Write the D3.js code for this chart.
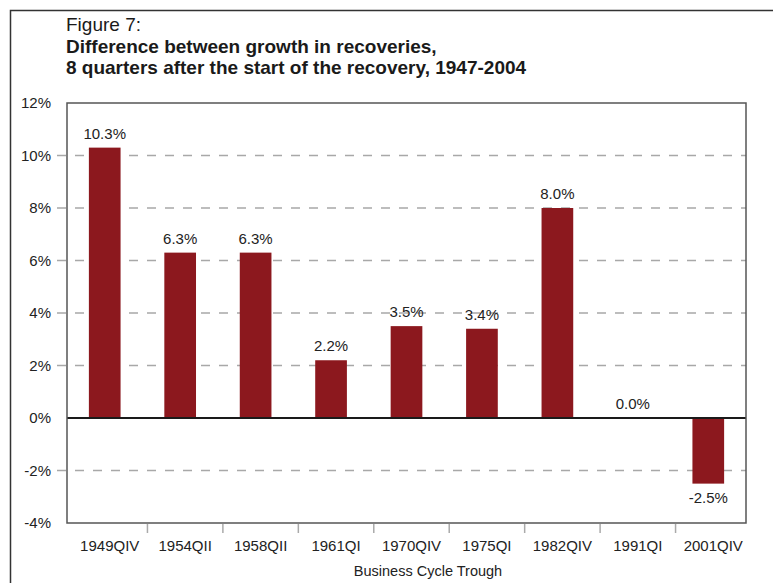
<!DOCTYPE html>
<html>
<head>
<meta charset="utf-8">
<script src="https://cdn.jsdelivr.net/npm/d3@7"></script>
<style>
  html, body { margin: 0; padding: 0; background: #fff; }
  svg { display: block; font-family: "Liberation Sans", Arial, sans-serif; }
</style>
</head>
<body>
<svg id="chart" width="773" height="583"></svg>
<script>
// Business cycle troughs and the growth difference 8 quarters into each recovery (%)
const troughs = ["1949QIV", "1954QII", "1958QII", "1961QI", "1970QIV", "1975QI", "1982QIV", "1991QI", "2001QIV"];
const growthDiff = [10.3, 6.3, 6.3, 2.2, 3.5, 3.4, 8.0, 0.0, -2.5];
const yTicks = [12, 10, 8, 6, 4, 2, 0, -2, -4];
const titleLines = [
  { text: "Figure 7:", bold: false },
  { text: "Difference between growth in recoveries,", bold: true },
  { text: "8 quarters after the start of the recovery, 1947-2004", bold: true }
];
const xTitle = "Business Cycle Trough";

const svg = d3.select("#chart");
const plot = { left: 67, right: 746, top: 103, bottom: 523 };

// Outer frame (top and left edges)
svg.append("path")
  .attr("d", "M10.5,583 V10.5 H773")
  .attr("fill", "none").attr("stroke", "#333").attr("stroke-width", 1.5);

// Titles
const title = svg.append("g");
title.selectAll("text").data(titleLines).join("text")
  .attr("x", 66)
  .attr("y", (d, i) => 31 + i * 21.5)
  .attr("font-size", 19)
  .attr("font-weight", d => d.bold ? "bold" : "normal")
  .attr("fill", "#1a1a1a")
  .text(d => d.text);

const x = d3.scaleBand().domain(troughs).range([plot.left, plot.right]).paddingInner(0).paddingOuter(0);
const y = d3.scaleLinear().domain([-4, 12]).range([plot.bottom, plot.top]);
const barW = x.bandwidth() * 0.42;

// Dashed gridlines
svg.append("g").selectAll("line")
  .data(yTicks.filter(v => v !== 0 && v !== 12 && v !== -4))
  .join("line")
  .attr("x1", 57).attr("x2", plot.right)
  .attr("y1", d => y(d)).attr("y2", d => y(d))
  .attr("stroke", "#a8a8a8").attr("stroke-width", 1.5)
  .attr("stroke-dasharray", "9,9");

// Y axis labels
const yAxis = d3.axisLeft(y).tickValues(yTicks).tickSize(0).tickPadding(0)
  .tickFormat(d => d + "%");
svg.append("g")
  .attr("transform", `translate(51,0)`)
  .call(yAxis)
  .call(g => g.select(".domain").remove())
  .call(g => g.selectAll("text")
    .attr("font-size", 15).attr("fill", "#222")
    .attr("font-family", "Liberation Sans, Arial, sans-serif"));

// Bars
svg.append("g").selectAll("rect")
  .data(troughs.map((t, i) => ({ t, v: growthDiff[i] })))
  .join("rect")
  .attr("x", d => x(d.t) + (x.bandwidth() - barW) / 2)
  .attr("width", barW)
  .attr("y", d => y(Math.max(0, d.v)))
  .attr("height", d => Math.abs(y(d.v) - y(0)))
  .attr("fill", "#8c181e");

// Value labels
svg.append("g").selectAll("text")
  .data(troughs.map((t, i) => ({ t, v: growthDiff[i] })))
  .join("text")
  .attr("x", d => x(d.t) + x.bandwidth() / 2)
  .attr("y", d => d.v >= 0 ? y(d.v) - 9 : y(d.v) + 19)
  .attr("text-anchor", "middle")
  .attr("font-size", 15)
  .attr("fill", "#222")
  .text(d => d.v.toFixed(1) + "%");

// Zero line
svg.append("line")
  .attr("x1", plot.left).attr("x2", plot.right)
  .attr("y1", y(0)).attr("y2", y(0))
  .attr("stroke", "#1a1a1a").attr("stroke-width", 2);

// Plot frame
svg.append("rect")
  .attr("x", plot.left).attr("y", plot.top)
  .attr("width", plot.right - plot.left).attr("height", plot.bottom - plot.top)
  .attr("fill", "none").attr("stroke", "#555").attr("stroke-width", 1.5);

// Category axis: tick marks between categories, labels beneath
const xShift = 5;
const xAxisG = svg.append("g").attr("transform", `translate(${xShift},${plot.bottom})`);
xAxisG.selectAll("line")
  .data(troughs.slice(1))
  .join("line")
  .attr("x1", d => x(d)).attr("x2", d => x(d))
  .attr("y1", 1).attr("y2", 10)
  .attr("stroke", "#aaa").attr("stroke-width", 1.5);
xAxisG.selectAll("text")
  .data(troughs)
  .join("text")
  .attr("x", d => x(d) + x.bandwidth() / 2)
  .attr("y", 28)
  .attr("text-anchor", "middle")
  .attr("font-size", 15)
  .attr("fill", "#222")
  .text(d => d);

// Axis title
svg.append("text")
  .attr("x", 428).attr("y", 576)
  .attr("text-anchor", "middle")
  .attr("font-size", 14.5)
  .attr("fill", "#222")
  .text(xTitle);
</script>
</body>
</html>
